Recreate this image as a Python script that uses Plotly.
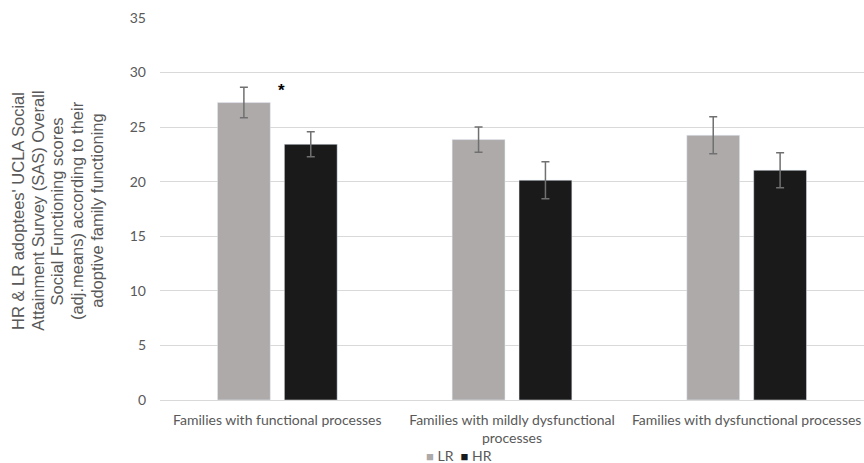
import plotly.graph_objects as go

categories = ["Families with functional processes",
              "Families with mildly dysfunctional<br>processes",
              "Families with dysfunctional processes"]
lr_means = [27.25, 23.86, 24.26]
lr_err = [1.4, 1.15, 1.7]
hr_means = [23.43, 20.14, 21.05]
hr_err = [1.15, 1.7, 1.6]
y_ticks = [0, 5, 10, 15, 20, 25, 30, 35]
series_names = ["LR", "HR"]
series_colors = ["#AEAAAA", "#1A1A1A"]
title_lines = ["HR & LR adoptees' UCLA Social",
               "Attainment Survey (SAS) Overall",
               "Social Functioning scores",
               "(adj.means) according to their",
               "adoptive family functioning"]

tick_font = dict(family="Lato, Open Sans, sans-serif", size=14, color="#595959")

fig = go.Figure()
for name, color, vals, errs in zip(series_names, series_colors,
                                   [lr_means, hr_means], [lr_err, hr_err]):
    fig.add_trace(go.Bar(
        name=name, x=categories, y=vals, marker_color=color,
        error_y=dict(type="data", array=errs, color="#707070", thickness=1.5, width=4),
    ))

# significance marker for the functional-processes group
fig.add_annotation(x=categories[0], y=28.4, text="<b>*</b>", showarrow=False,
                   xshift=4, font=dict(family="Liberation Sans, Arial", size=17, color="#000"))

# rotated multi-line y-axis title, one line per annotation
for i, line in enumerate(title_lines):
    fig.add_annotation(xref="paper", yref="paper", x=0, y=0.5, xanchor="center",
                       yanchor="middle", xshift=-142 + 19.7 * i, yshift=-2,
                       text=line, textangle=-90, showarrow=False,
                       font=dict(family="Liberation Sans, Arial", size=16.5, color="#595959"))

# compact legend below the category labels
legend_text = "  ".join(
    f"<span style='color:{c};font-size:13px'>■</span> {n}"
    for n, c in zip(series_names, series_colors))
fig.add_annotation(xref="paper", yref="paper", x=0, y=0, xanchor="center", yanchor="middle",
                   xshift=459 - 160, yshift=-55, text=legend_text, showarrow=False,
                   font=dict(family="Lato, Open Sans, sans-serif", size=14, color="#595959"))

fig.update_layout(
    width=864, height=463,
    margin=dict(l=160, r=0, t=18, b=63, autoexpand=False),
    paper_bgcolor="white", plot_bgcolor="white",
    barmode="group", bargap=0.43, bargroupgap=0.21,
    showlegend=False,
    xaxis=dict(tickfont=tick_font, showline=False, ticks="", showgrid=False,
               ticklabelstandoff=10, automargin=False),
    yaxis=dict(range=[0, 35], tickvals=y_ticks, tickfont=tick_font,
               gridcolor="#D9D9D9", gridwidth=1, zeroline=True, zerolinecolor="#D9D9D9",
               zerolinewidth=1, ticks="", ticklabelstandoff=13, automargin=False),
)

fig.write_html("out.html")
